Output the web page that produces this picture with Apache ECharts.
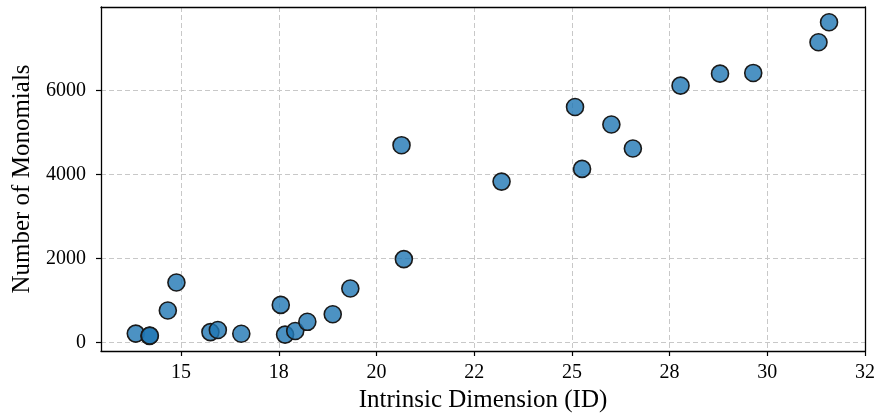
<!DOCTYPE html>
<html>
<head>
<meta charset="utf-8">
<script src="https://cdn.jsdelivr.net/npm/echarts@6/dist/echarts.min.js"></script>
<style>
  html, body { margin: 0; padding: 0; background: #fff; }
  #chart { width: 878px; height: 418px; }
</style>
</head>
<body>
<div id="chart"></div>
<script>
  // intrinsic dimension vs number of monomials
  var idValues = [13.84, 14.19, 14.20, 14.66, 14.88, 15.75, 15.94, 16.54, 17.55, 17.66, 17.92, 18.23, 18.88, 19.33,
                  20.64, 20.70, 23.20, 25.08, 25.26, 26.01, 26.56, 27.78, 28.79, 29.64, 31.31, 31.58];
  var monomials = [214, 160, 165, 764, 1432, 250, 300, 210, 898, 190, 275, 495, 675, 1289,
                   4700, 1988, 3833, 5609, 4136, 5193, 4621, 6117, 6403, 6420, 7150, 7628];

  var xTicks = [15, 17.5, 20, 22.5, 25, 27.5, 30, 32.5];
  var xTickLabels = ['15', '18', '20', '22', '25', '28', '30', '32'];
  var yTicks = [0, 2000, 4000, 6000];

  var points = [];
  for (var i = 0; i < idValues.length; i++) {
    points.push([idValues[i], monomials[i]]);
  }

  var font = '"Liberation Serif", "DejaVu Serif", serif';
  var frame = { show: true, onZero: false, lineStyle: { color: '#000', width: 1.3 } };

  var myChart = echarts.init(document.getElementById('chart'), null, { renderer: 'canvas' });
  var option = {
    animation: false,
    backgroundColor: '#fff',
    grid: {
      left: 101, right: 13, top: 7, bottom: 67,
      show: false
    },
    xAxis: [
      {
        type: 'value',
        min: 12.95,
        max: 32.5,
        name: 'Intrinsic Dimension (ID)',
        nameLocation: 'middle',
        nameGap: 37,
        nameTextStyle: { fontFamily: font, fontSize: 25, color: '#000' },
        axisLine: frame,
        axisTick: { show: true, length: 5, customValues: xTicks, lineStyle: { color: '#000', width: 1.2 } },
        axisLabel: {
          customValues: xTicks,
          margin: 12,
          fontFamily: font, fontSize: 20, color: '#000',
          formatter: function (v) {
            var k = xTicks.indexOf(v);
            return k >= 0 ? xTickLabels[k] : '';
          }
        },
        splitLine: { show: true, lineStyle: { color: '#c8c8c8', type: [5, 3], width: 1 } },
        z: 1
      },
      {
        // top frame edge
        type: 'value', position: 'top', min: 12.95, max: 32.5,
        axisLine: frame, axisTick: { show: false }, axisLabel: { show: false }, splitLine: { show: false },
        z: 5
      }
    ],
    yAxis: [
      {
        type: 'value',
        min: -200,
        max: 7990,
        name: 'Number of Monomials',
        nameLocation: 'middle',
        nameGap: 65,
        nameTextStyle: { fontFamily: font, fontSize: 25, color: '#000' },
        axisLine: frame,
        axisTick: { show: true, length: 5, customValues: yTicks, lineStyle: { color: '#000', width: 1.2 } },
        axisLabel: {
          customValues: yTicks, margin: 15, fontFamily: font, fontSize: 20, color: '#000',
          formatter: function (v) { return String(v); }
        },
        splitLine: { show: true, lineStyle: { color: '#c8c8c8', type: [5, 3], width: 1 } },
        z: 1
      },
      {
        // right frame edge
        type: 'value', position: 'right', min: -200, max: 7990,
        axisLine: frame, axisTick: { show: false }, axisLabel: { show: false }, splitLine: { show: false },
        z: 5
      }
    ],
    series: [
      {
        type: 'scatter',
        data: points,
        symbol: 'circle',
        symbolSize: 17,
        itemStyle: {
          color: 'rgba(31,119,180,0.8)',
          borderColor: '#1a1a1a',
          borderWidth: 1.6,
          opacity: 1
        },
        z: 3
      }
    ]
  };
  myChart.setOption(option);
</script>
</body>
</html>
